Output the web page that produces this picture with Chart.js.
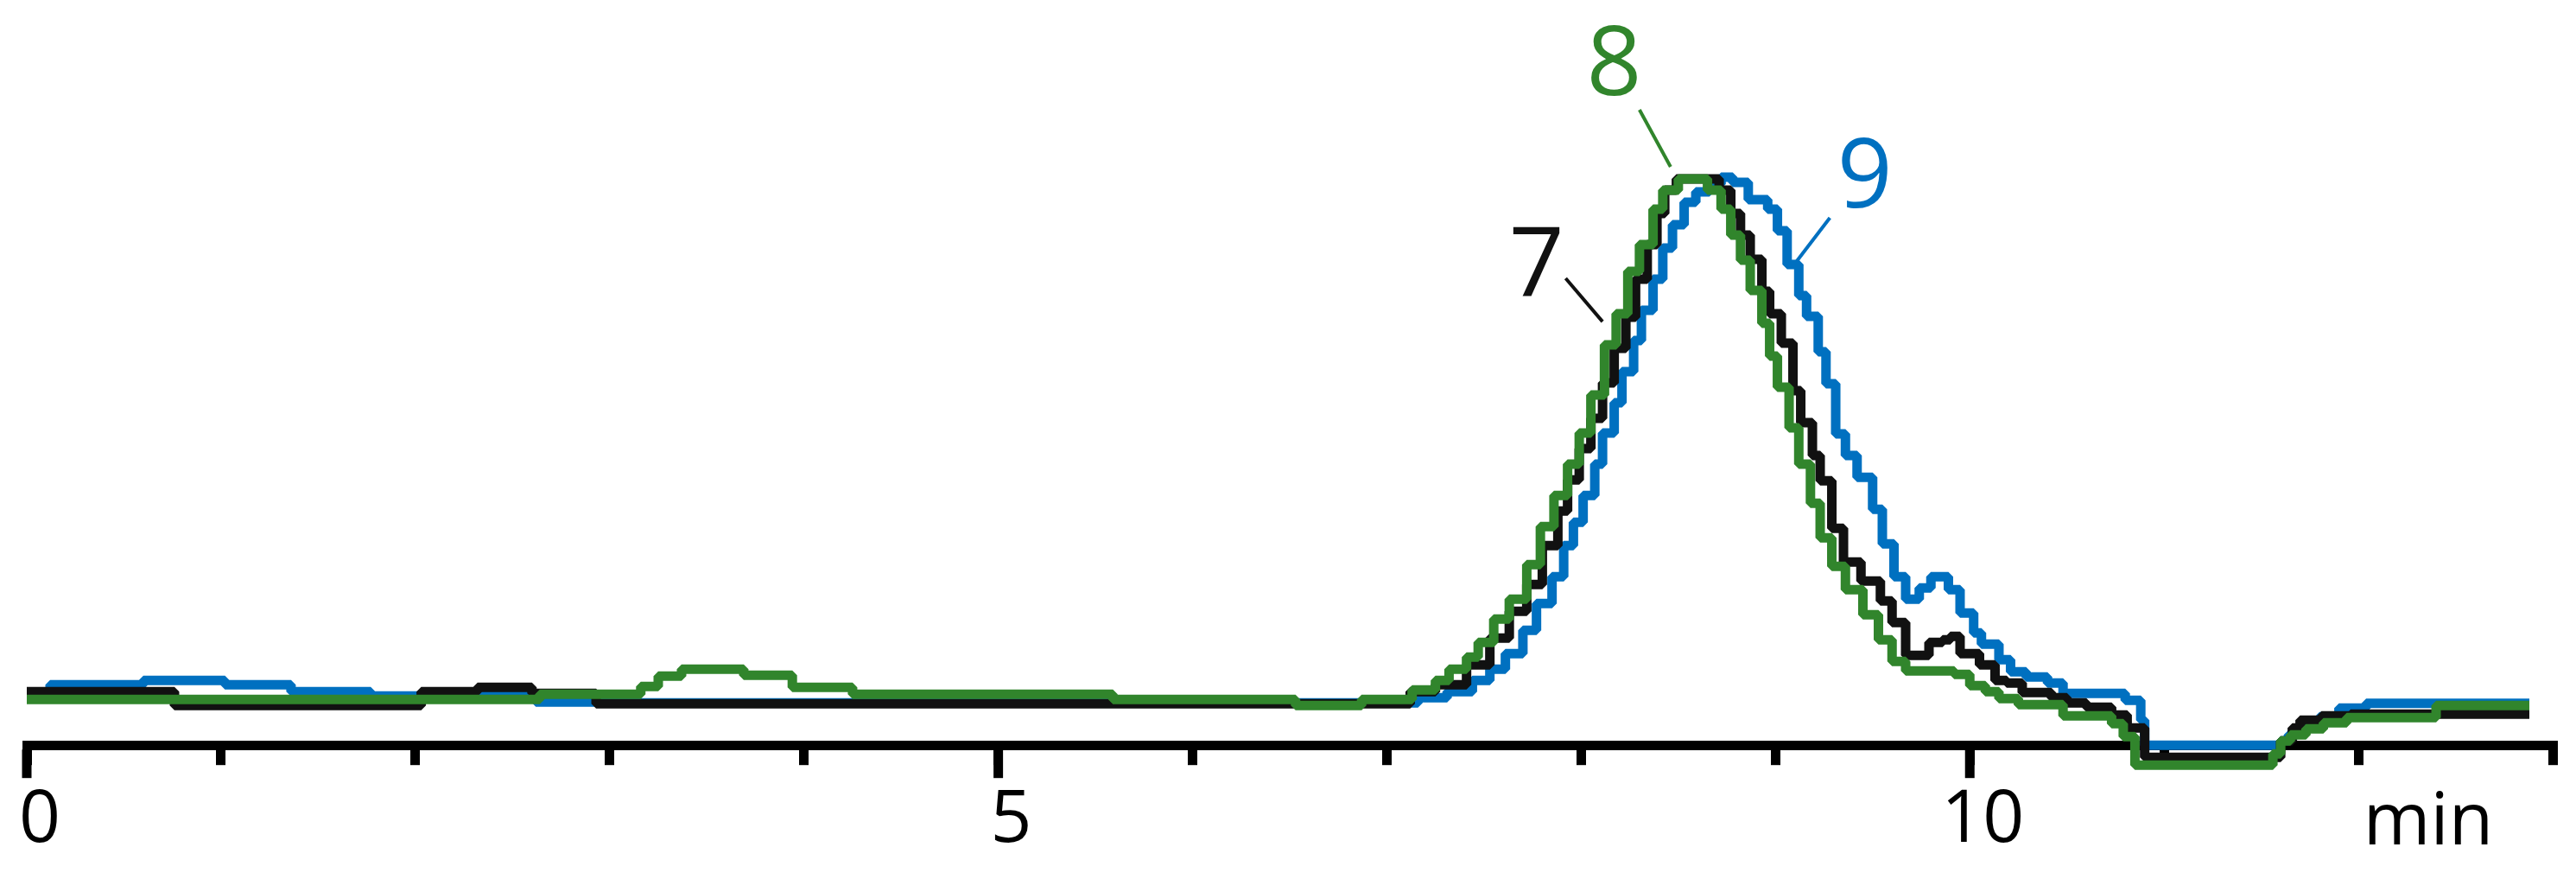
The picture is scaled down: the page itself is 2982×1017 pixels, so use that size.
<!DOCTYPE html>
<html>
<head>
  <title>Chromatogram 7 / 8 / 9</title>
  <script src="https://cdn.jsdelivr.net/npm/chart.js"></script>
  <style>
    html, body { margin: 0; padding: 0; background: #fff; }
    #wrap { width: 2982px; height: 1017px; }
  </style>
</head>
<body>
  <div id="wrap"><canvas id="chart"></canvas></div>

  <script>
    // retention time (min) and signal (step starts)
    const t7 = [0, 0.76, 2.03, 2.32, 2.6, 2.93, 7.12, 7.25, 7.41, 7.53, 7.63, 7.72, 7.8, 7.88, 7.93, 7.99,
      8.05, 8.11, 8.17, 8.23, 8.28, 8.34, 8.39, 8.43, 8.49, 8.71, 8.77, 8.82, 8.87, 8.93, 8.97, 9.03, 9.09, 9.13,
      9.19, 9.23, 9.29, 9.35, 9.44, 9.54, 9.6, 9.67, 9.79, 9.86, 9.9, 9.95, 10.05, 10.13, 10.19, 10.27, 10.42,
      10.5, 10.6, 10.73, 10.81, 10.9, 11.6, 11.66, 11.7, 11.81, 11.96, 12.88];
    const v7 = [6.2, 4.6, 6.2, 6.7, 6.0, 4.8, 6.2, 7.0, 9.3, 12.4, 15.5, 18.6, 23.1, 27.1, 30.7, 34.3,
      37.8, 41.9, 45.9, 49.5, 53.9, 57.9, 61.5, 64.2, 65.5, 64.2, 61.5, 59.0, 56.2, 52.5, 49.9, 46.5, 41.0, 37.3,
      33.5, 30.6, 25.1, 21.2, 19.0, 16.7, 14.2, 10.4, 11.9, 12.2, 12.6, 10.6, 9.3, 7.5, 7.2, 6.1, 5.5,
      4.9, 4.4, 3.5, 2.0, -1.4, 0.5, 2.0, 2.9, 3.4, 3.6, 3.6];

    const t8 = [0, 2.64, 3.16, 3.25, 3.37, 3.69, 3.94, 4.25, 5.59, 6.53, 6.87, 7.13, 7.25, 7.32, 7.41, 7.47,
      7.55, 7.63, 7.72, 7.79, 7.86, 7.93, 7.99, 8.05, 8.12, 8.18, 8.24, 8.3, 8.37, 8.42, 8.5, 8.65, 8.72, 8.77,
      8.82, 8.87, 8.93, 8.97, 9.01, 9.07, 9.12, 9.18, 9.23, 9.29, 9.36, 9.45, 9.53, 9.6, 9.67, 9.92, 10.0, 10.08,
      10.15, 10.25, 10.48, 10.73, 10.79, 10.85, 11.56, 11.6, 11.65, 11.73, 11.82, 11.94, 12.4, 12.88];
    const v8 = [5.3, 5.9, 6.8, 8.0, 8.8, 8.1, 6.7, 5.9, 5.3, 4.6, 5.3, 6.4, 7.5, 8.8, 10.2, 11.9,
      14.6, 16.9, 20.9, 25.3, 28.9, 32.5, 36.1, 40.5, 46.3, 49.9, 54.8, 57.9, 62.0, 64.2, 65.5, 64.2, 62.0, 59.0,
      56.1, 52.6, 48.8, 45.0, 41.4, 36.7, 32.5, 28.0, 24.0, 20.7, 18.0, 15.1, 12.2, 9.7, 8.6, 8.2, 6.9, 6.2,
      5.4, 4.7, 3.4, 2.5, 1.0, -2.3, -1.0, 0.5, 1.2, 1.9, 2.6, 3.2, 4.6, 4.6];

    const t9 = [0, 0.12, 0.6, 1.02, 1.36, 1.77, 2.62, 2.95, 7.16, 7.31, 7.44, 7.53, 7.61, 7.7, 7.77, 7.85,
      7.91, 7.96, 8.01, 8.07, 8.11, 8.17, 8.21, 8.27, 8.31, 8.37, 8.42, 8.47, 8.53, 8.59, 8.66, 8.72, 8.78, 8.86,
      8.96, 9.01, 9.06, 9.12, 9.16, 9.22, 9.26, 9.31, 9.36, 9.42, 9.5, 9.55, 9.61, 9.67, 9.74, 9.8, 9.89, 9.95,
      10.02, 10.06, 10.15, 10.21, 10.29, 10.4, 10.48, 10.8, 10.88, 10.9, 11.6, 11.64, 11.68, 11.73, 11.8, 11.9,
      12.04, 12.88];
    const v9 = [5.5, 7.0, 7.5, 7.0, 6.2, 5.7, 5.0, 4.9, 5.5, 6.2, 7.5, 8.8, 10.6, 13.3, 16.4, 19.5,
      23.1, 25.8, 28.9, 32.5, 36.1, 39.6, 43.2, 46.8, 50.3, 53.9, 57.5, 60.2, 62.8, 64.0, 64.9, 65.7, 65.1, 63.1,
      62.0, 59.5, 55.6, 52.0, 49.6, 45.5, 41.8, 36.0, 33.5, 31.0, 27.3, 23.3, 19.5, 16.9, 18.2, 19.5, 18.0, 15.3,
      13.0, 11.7, 9.9, 8.5, 7.9, 7.2, 6.0, 5.2, 2.9, 0.0, 0.5, 1.2, 2.0, 2.7, 3.3, 4.3,
      4.85, 4.85];

    // peak labels with their leader lines
    const peakNames = ['7', '8', '9'];
    const peakColors = ['#111111', '#31852c', '#0070c0'];
    const labelT = [7.77, 8.17, 9.46];
    const labelV = [51.9, 75.2, 62.2];
    const leadT1 = [7.92, 8.30, 9.28];
    const leadV1 = [54.0, 73.5, 61.0];
    const leadT2 = [8.11, 8.46, 9.11];
    const leadV2 = [49.0, 66.9, 56.0];

    const majorTicks = [0, 5, 10];
    const unitLabel = { text: 'min', t: 12.36, v: -11.5 };

    function points(ts, vs) {
      return ts.map((t, i) => ({ x: t, y: vs[i] }));
    }

    function series(label, ts, vs, color, order) {
      return {
        label: label,
        data: points(ts, vs),
        borderColor: color,
        borderWidth: 11,
        pointRadius: 0,
        stepped: 'before',   // each value holds until the next time
        borderJoinStyle: 'bevel',
        clip: false,
        order: order
      };
    }

    // longer marks at 0, 5, 10
    const majorTickPlugin = {
      id: 'majorTicks',
      beforeDatasetsDraw(chart) {
        const x = chart.scales.x;
        const ctx = chart.ctx;
        const bottom = chart.chartArea.bottom;
        ctx.save();
        ctx.strokeStyle = '#000';
        ctx.lineWidth = 11;
        majorTicks.forEach(v => {
          const px = x.getPixelForValue(v);
          ctx.beginPath();
          ctx.moveTo(px, bottom + 5);
          ctx.lineTo(px, bottom + 38);
          ctx.stroke();
        });
        ctx.restore();
      }
    };

    const peakLabelPlugin = {
      id: 'peakLabels',
      afterDatasetsDraw(chart) {
        const x = chart.scales.x, y = chart.scales.y;
        const ctx = chart.ctx;
        ctx.save();
        ctx.textAlign = 'center';
        ctx.textBaseline = 'alphabetic';
        ctx.font = '112px "Open Sans"';
        ctx.lineWidth = 4;
        peakNames.forEach((name, i) => {
          ctx.fillStyle = peakColors[i];
          ctx.strokeStyle = peakColors[i];
          ctx.fillText(name, x.getPixelForValue(labelT[i]), y.getPixelForValue(labelV[i]));
          ctx.beginPath();
          ctx.moveTo(x.getPixelForValue(leadT1[i]), y.getPixelForValue(leadV1[i]));
          ctx.lineTo(x.getPixelForValue(leadT2[i]), y.getPixelForValue(leadV2[i]));
          ctx.stroke();
        });
        ctx.fillStyle = '#000';
        ctx.font = '84px "Open Sans"';
        ctx.fillText(unitLabel.text, x.getPixelForValue(unitLabel.t), y.getPixelForValue(unitLabel.v));
        ctx.restore();
      }
    };

    const ctx = document.getElementById('chart').getContext('2d');
    const chart = new Chart(ctx, {
      type: 'line',
      data: {
        datasets: [
          series('7', t7, v7, '#111111', 2),
          series('8', t8, v8, '#31852c', 1),
          series('9', t9, v9, '#0070c0', 3)
        ]
      },
      options: {
        responsive: true,
        maintainAspectRatio: false,
        animation: false,
        layout: { padding: { left: 31, right: 27, top: 0, bottom: 3 } },
        plugins: {
          legend: { display: false },
          tooltip: { enabled: false }
        },
        scales: {
          x: {
            type: 'linear',
            min: 0,
            max: 13,
            // labels sit to the right of their ticks, no extra room needed
            afterFit: scale => { scale.paddingLeft = 0; scale.paddingRight = 0; },
            border: { display: true, color: '#000', width: 11 },
            grid: {
              display: true,
              drawOnChartArea: false,
              drawTicks: true,
              tickLength: 23,
              tickWidth: 11,
              tickColor: '#000',
              lineWidth: 11,
              color: '#000'
            },
            ticks: {
              stepSize: 1,
              autoSkip: false,
              maxRotation: 0,
              padding: 14,
              labelOffset: 15,
              color: '#000',
              font: { family: 'Open Sans', size: 84 },
              callback: v => (majorTicks.includes(v) ? String(v) : '')
            }
          },
          y: {
            display: false,
            min: 0,
            max: 86.2
          }
        }
      },
      plugins: [majorTickPlugin, peakLabelPlugin]
    });
  </script>
</body>
</html>
